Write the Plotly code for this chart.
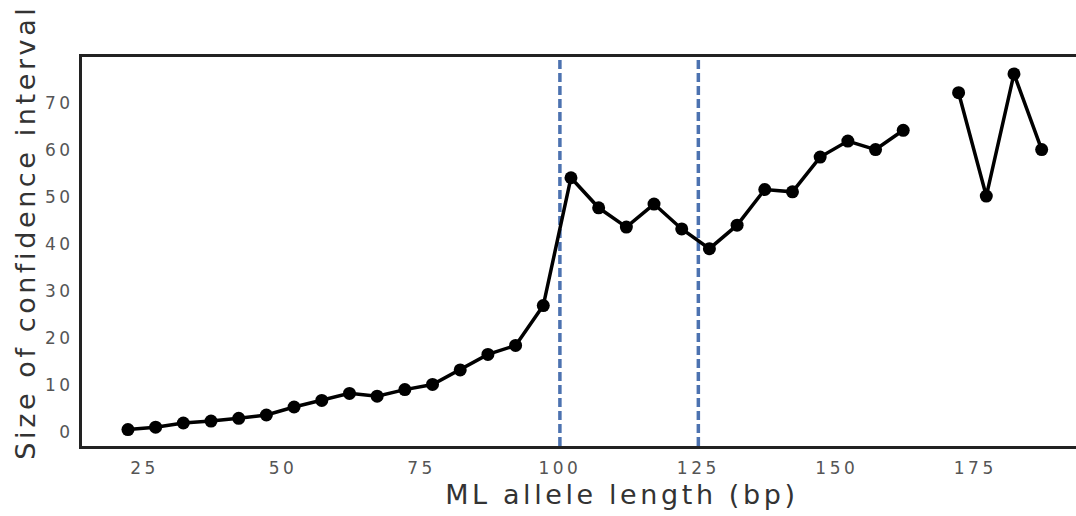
import plotly.graph_objects as go

# Data
allele_length = [22, 27, 32, 37, 42, 47, 52, 57, 62, 67, 72, 77, 82, 87, 92, 97,
                 102, 107, 112, 117, 122, 127, 132, 137, 142, 147, 152, 157, 162,
                 167, 172, 177, 182, 187]
ci_size = [0.6, 1.1, 2.0, 2.4, 3.0, 3.7, 5.4, 6.8, 8.3, 7.7, 9.1, 10.2, 13.3, 16.6, 18.5, 27.0,
           54.2, 47.8, 43.7, 48.6, 43.3, 39.1, 44.1, 51.7, 51.2, 58.6, 62.0, 60.2, 64.3,
           None, 72.3, 50.3, 76.3, 60.2]
boundary_lines = [100, 125]
x_ticks = [25, 50, 75, 100, 125, 150, 175]
y_ticks = [0, 10, 20, 30, 40, 50, 60, 70]

fig = go.Figure()
fig.add_trace(go.Scatter(
    x=allele_length, y=ci_size, mode="lines+markers",
    line=dict(color="black", width=3.5),
    marker=dict(color="black", size=13),
    connectgaps=False, showlegend=False,
))

for xv in boundary_lines:
    fig.add_vline(x=xv, line=dict(color="#4c72b0", width=3.5, dash="9px,4px"), layer="below")

fig.update_layout(
    width=1076, height=516,
    margin=dict(l=82, r=0, t=57, b=70),
    plot_bgcolor="white", paper_bgcolor="white",
    font=dict(family="DejaVu Sans", color="#333"),
    xaxis=dict(range=[13.7, 193.2], tickvals=x_ticks, showgrid=False, zeroline=False,
               showline=True, linecolor="#222", linewidth=3, mirror=True, ticks="",
               ticklabelstandoff=5,
               tickfont=dict(size=17, color="#555")),
    yaxis=dict(range=[-2.9, 79.9], tickvals=y_ticks, showgrid=False, zeroline=False,
               showline=True, linecolor="#222", linewidth=3, ticks="",
               ticklabelstandoff=2,
               tickfont=dict(size=17, color="#555")),
    annotations=[
        dict(text="ML allele length (bp)", xref="paper", yref="paper", x=0.543, y=-0.125,
             xanchor="center", yanchor="middle", showarrow=False,
             font=dict(size=27, color="#333")),
        dict(text="Size of confidence interval", xref="paper", yref="paper", x=-0.0573, y=0.55,
             xanchor="center", yanchor="middle", textangle=-90, showarrow=False,
             font=dict(size=27, color="#333")),
    ],
)

post = """
var s = document.createElement('style');
s.innerHTML = '.xtick text, .ytick text {letter-spacing: 3.5px;} .annotation-text {letter-spacing: 3.6px;}';
document.head.appendChild(s);
"""
fig.write_html("out.html", post_script=post)
